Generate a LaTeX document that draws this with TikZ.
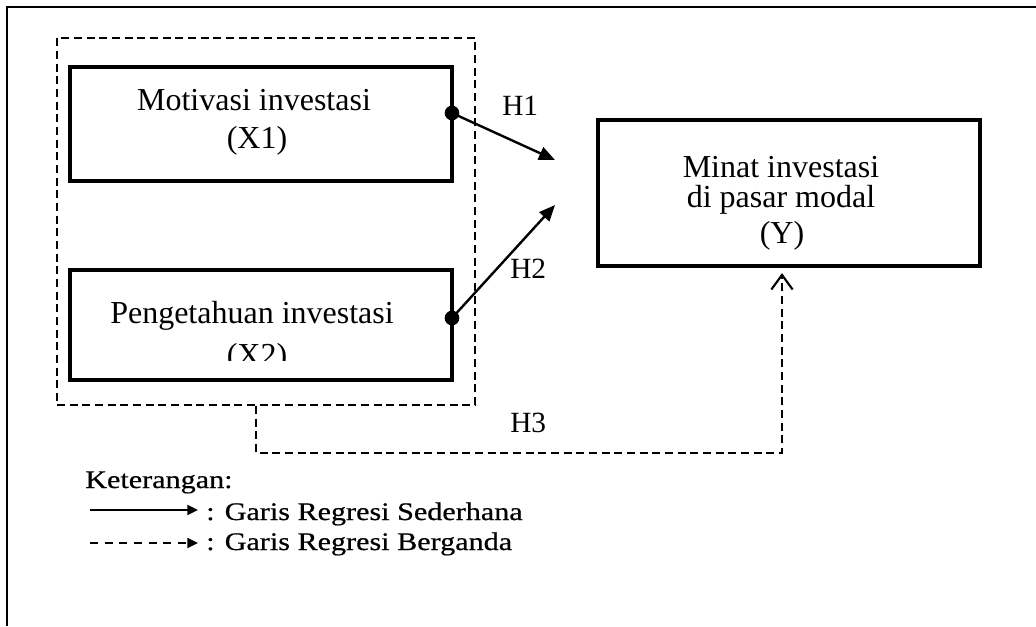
\documentclass[tikz,border=0pt]{standalone}
\usepackage{fontspec}
\setmainfont{Liberation Serif}
\newfontfamily\legfont[FakeStretch=1.19,FakeBold=0.6]{Liberation Serif}
\usetikzlibrary{arrows.meta}
\begin{document}
\begin{tikzpicture}[x=0.75pt,y=-0.75pt,
  box/.style={draw, line width=3.6pt, minimum width=286.5pt, inner sep=0pt},
  lbl/.style={font=\fontsize{24}{28}\selectfont, anchor=base, inner sep=0pt},
  hyp/.style={font=\fontsize{22}{26}\selectfont, anchor=base west, inner sep=0pt},
  dsh/.style={line width=1.4pt, dash pattern=on 6pt off 3.5pt},
  sarrow/.style={line width=1.8pt, -{Triangle[length=12pt,width=10pt]}},
  dotnode/.style={circle, fill, inner sep=0pt, minimum size=11pt},
  leg/.style={font=\legfont\fontsize{19}{22}\selectfont, anchor=base west, inner sep=0pt},
  legarrow/.style={line width=1.6pt, -{Triangle[length=8pt,width=7.5pt]}}]
\useasboundingbox (0,0) rectangle (1036,626);
% outer frame
\draw[line width=1.6pt] (1036,7) -- (7,7) -- (7,626);
% group of independent variables
\node[draw, dsh, minimum width=313.5pt, minimum height=275.25pt, inner sep=0pt] (grp) at (266,221.5) {};
% boxes
\node[box, minimum height=85.5pt] (X1) at (261,124) {};
\node[box, minimum height=82.5pt] (X2) at (261,325) {};
\node[box, minimum height=109.5pt] (Y) at (789,193) {};
% texts
\node[lbl] (x1a) at (254,110) {Motivasi investasi};
\node[lbl] (x1b) at (257,148) {(X1)};
\node[lbl] (x2a) at (252,323) {Pengetahuan investasi};
\begin{scope}
  \clip (72,330) rectangle (450,360);
  \node[lbl] (x2b) at (257,365) {(X2)};
\end{scope}
\node[lbl] (ya) at (781,177) {Minat investasi};
\node[lbl] (yb) at (781,207) {di pasar modal};
\node[lbl] (yc) at (782,243) {(Y)};
% hypothesis labels
\node[hyp] (h1) at (502,115) {H1};
\node[hyp] (h2) at (510,278) {H2};
\node[hyp] (h3) at (510,432) {H3};
% dots and simple regression arrows
\node[dotnode] (d1) at (452,113) {};
\node[dotnode] (d2) at (452,318) {};
\coordinate (t1) at (555,160);
\coordinate (t2) at (555,205);
\draw[sarrow] (d1.center) -- (t1);
\draw[sarrow] (d2.center) -- (t2);
% multiple regression arrow
\coordinate (c1) at (256,453);
\coordinate (c2) at (782,453);
\draw[dsh, -{Straight Barb[length=11pt,width=16pt,line width=1.6pt]}, shorten >=3.5pt]
  (grp.south -| c1) -- (c1) -- (c2) -- (Y.south -| c2);
% legend
\node[leg] (ket) at (85,488) {Keterangan:};
\coordinate (ls1) at (90,510);
\coordinate (le1) at (198,510);
\draw[legarrow] (ls1) -- (le1);
\node[leg] (lt1) at (206,520) {: Garis Regresi Sederhana};
\coordinate (ls2) at (90,543);
\coordinate (le2) at (198,543);
\draw[legarrow, dash pattern=on 6pt off 5pt] (ls2) -- (le2);
\node[leg] (lt2) at (206,550) {: Garis Regresi Berganda};
\end{tikzpicture}
\end{document}
